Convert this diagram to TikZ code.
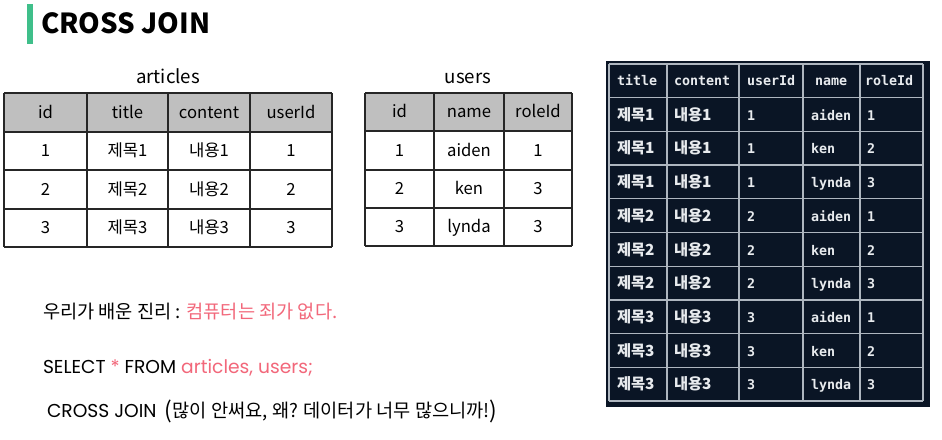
\documentclass[tikz,border=0pt]{standalone}
\usepackage{fontspec}
\setmainfont{Noto Sans CJK KR}
\newfontfamily\kr{Noto Sans CJK KR}
\newfontfamily\pop{Poppins}
\newfontfamily\mono{DejaVu Sans Mono}
\definecolor{titlegreen}{HTML}{3FBF8A}
\definecolor{hl}{HTML}{F2677A}
\definecolor{darkbg}{HTML}{0A1525}
\definecolor{gridc}{HTML}{AEB6BF}
\definecolor{hdr}{HTML}{BFBFBF}
\definecolor{celltxt}{HTML}{E8EBEE}
\tikzset{
  txt/.style={inner sep=0pt, outer sep=0pt},
  cell/.style={txt, anchor=base, font=\fontsize{12.5}{14}\selectfont},
  lbl/.style={txt, anchor=base, font=\fontsize{14}{16}\selectfont},
  dcell/.style={txt, anchor=base west, text=celltxt, font=\mono\bfseries\fontsize{10}{12}\selectfont},
  dkcell/.style={txt, anchor=base west, text=celltxt, font=\kr\bfseries\fontsize{11.5}{13}\selectfont},
  tline/.style={draw=black!85, line width=0.9pt},
  dline/.style={draw=gridc, line width=1pt},
  body/.style={txt, anchor=base west, font=\fontsize{14}{16}\selectfont}
}
\begin{document}
\begin{tikzpicture}[x=0.75pt,y=-0.75pt]
\useasboundingbox (0,0) rectangle (942,439);
\fill[white] (0,0) rectangle (942,439);
% title
\fill[titlegreen] (27,4) rectangle (33,44);
\node[txt, anchor=base west, font=\kr\bfseries\fontsize{20.7}{23}\selectfont] (title) at (41,33) {CROSS JOIN};

% articles table
\node[lbl] (artlbl) at (168,83) {articles};
\fill[hdr] (4,93) rectangle (332,132);
\foreach \y in {93,132,170,209,247} \draw[tline] (4,\y) -- (332,\y);
\foreach \x in {4,87,168,250,332} \draw[tline] (\x,93) -- (\x,247);
\foreach \r/\yy/\a/\b/\c/\d in {0/112.5/id/title/content/userId, 1/151/1/제목1/내용1/1, 2/189.5/2/제목2/내용2/2, 3/228/3/제목3/내용3/3} {
  \node[cell] (a-\r-1) at (45.5,\yy+5.5) {\a};
  \node[cell] (a-\r-2) at (127.5,\yy+5.5) {\b};
  \node[cell] (a-\r-3) at (209,\yy+5.5) {\c};
  \node[cell] (a-\r-4) at (291,\yy+5.5) {\d};
}

% users table
\node[lbl] (usrlbl) at (468,83) {users};
\fill[hdr] (365,93) rectangle (572,131);
\foreach \y in {93,131,170,208,246} \draw[tline] (365,\y) -- (572,\y);
\foreach \x in {365,434,504,572} \draw[tline] (\x,93) -- (\x,246);
\foreach \r/\yy/\a/\b/\c in {0/112/id/name/roleId, 1/150.5/1/aiden/1, 2/189/2/ken/3, 3/227/3/lynda/3} {
  \node[cell] (u-\r-1) at (399.5,\yy+5.5) {\a};
  \node[cell] (u-\r-2) at (469,\yy+5.5) {\b};
  \node[cell] (u-\r-3) at (538,\yy+5.5) {\c};
}

% result table (dark)
\fill[darkbg] (606,61) rectangle (930,407);
\foreach \i in {0,...,10} \draw[dline] (609,{64+\i*33.7}) -- (923,{64+\i*33.7});
\foreach \x in {609,667,739,803,860,923} \draw[dline] (\x,64) -- (\x,401);
\node[dcell] (d-0-1) at (617,85.5) {title};
\node[dcell] (d-0-2) at (674,85.5) {content};
\node[dcell] (d-0-3) at (747,85.5) {userId};
\node[dcell] (d-0-4) at (815,85.5) {name};
\node[dcell] (d-0-5) at (865,85.5) {roleId};
\foreach \r/\a/\b/\c/\d/\e in {1/제목1/내용1/1/aiden/1, 2/제목1/내용1/1/ken/2, 3/제목1/내용1/1/lynda/3, 4/제목2/내용2/2/aiden/1, 5/제목2/내용2/2/ken/2, 6/제목2/내용2/2/lynda/3, 7/제목3/내용3/3/aiden/1, 8/제목3/내용3/3/ken/2, 9/제목3/내용3/3/lynda/3} {
  \node[dkcell] (d-\r-1) at (617,{86.5+\r*33.7}) {\a};
  \node[dkcell] (d-\r-2) at (674,{86.5+\r*33.7}) {\b};
  \node[dcell] (d-\r-3) at (747,{86.5+\r*33.7}) {\c};
  \node[dcell] (d-\r-4) at (811,{86.5+\r*33.7}) {\d};
  \node[dcell] (d-\r-5) at (867,{86.5+\r*33.7}) {\e};
}

% bottom text
\node[body] (truth) at (43,318) {우리가 배운 진리 : \textcolor{hl}{컴퓨터는 죄가 없다.}};
\node[body] (sql) at (43,373) {\pop SELECT \textcolor{hl}{*} FROM \textcolor{hl}{articles, users;}};
\node[body] (cj) at (47,417) {{\pop CROSS JOIN}\ \ \raisebox{-1pt}{\fontsize{17}{18}\selectfont(}많이 안써요, 왜? 데이터가 너무 많으니까!\raisebox{-1pt}{\fontsize{17}{18}\selectfont)}};
\end{tikzpicture}
\end{document}
